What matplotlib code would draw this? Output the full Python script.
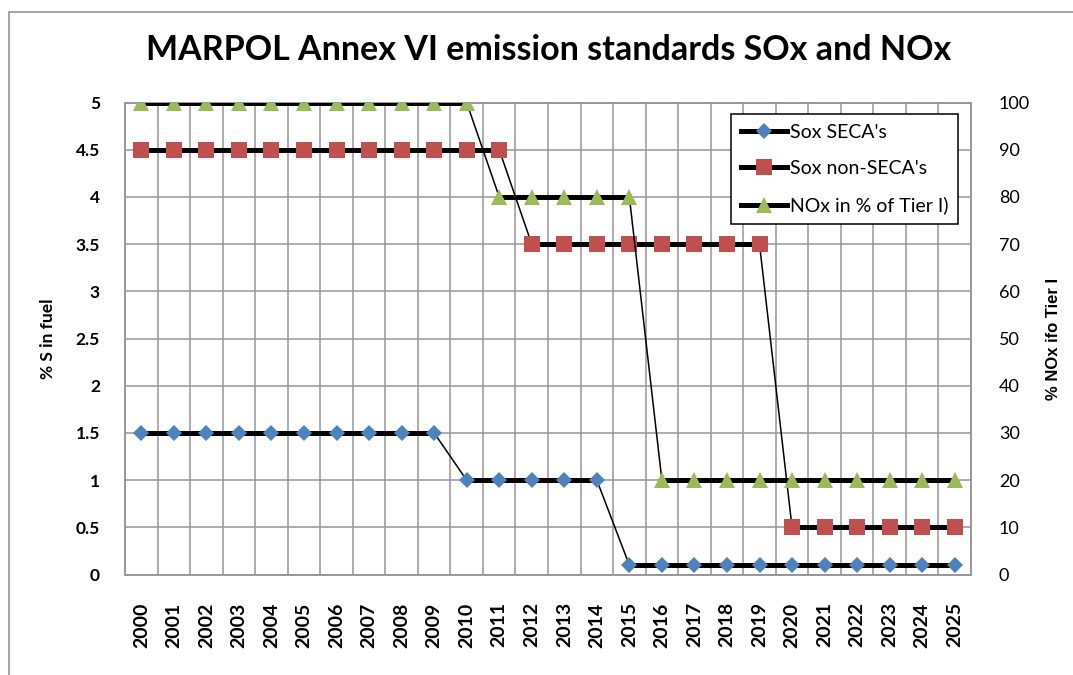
import matplotlib
matplotlib.use("Agg")
import matplotlib.pyplot as plt
import numpy as np
from matplotlib.collections import LineCollection
from matplotlib.patches import Rectangle

years = [str(y) for y in range(2000, 2026)]
sox_seca = [1.5] * 10 + [1.0] * 5 + [0.1] * 11
sox_non_seca = [4.5] * 12 + [3.5] * 8 + [0.5] * 6
nox_tier = [100] * 11 + [80] * 5 + [20] * 10

left_ticks = [0, 0.5, 1, 1.5, 2, 2.5, 3, 3.5, 4, 4.5, 5]
right_ticks = [0, 10, 20, 30, 40, 50, 60, 70, 80, 90, 100]

BLUE = "#4F81BD"
RED = "#C0504D"
GREEN = "#9BBB59"
GRID = "#969696"
FONT = "Lato"


def draw_series(ax, values, marker, color, ms, label):
    """Thick segments while a value holds, thin ones where it changes."""
    x = np.arange(len(values))
    y = np.asarray(values, dtype=float)
    segs = [[(x[i], y[i]), (x[i + 1], y[i + 1])] for i in range(len(x) - 1)]
    widths = [3.6 if y[i] == y[i + 1] else 1.1 for i in range(len(x) - 1)]
    ax.add_collection(LineCollection(segs, colors="black", linewidths=widths, zorder=3))
    ax.plot(x, y, linestyle="none", marker=marker, color=color, ms=ms,
            markeredgewidth=0, zorder=4)
    return plt.Line2D([], [], color="black", lw=3.6, marker=marker, markerfacecolor=color,
                      markeredgewidth=0, ms=ms, label=label)


fig = plt.figure(figsize=(10.73, 6.75), dpi=100)
ax = fig.add_axes([125 / 1073, 1 - 574.5 / 675, 846 / 1073, 472 / 675])
ax2 = ax.twinx()

# outer chart border
fig.patches.append(Rectangle((9 / 1073, -0.1), 1.2, 1.1 - 12 / 675,
                             transform=fig.transFigure, fill=False,
                             edgecolor="#8c8c8c", lw=1.1, zorder=0))

h1 = draw_series(ax, sox_seca, "D", BLUE, 8.2, "Sox SECA's")
h2 = draw_series(ax, sox_non_seca, "s", RED, 11, "Sox non-SECA's")
h3 = draw_series(ax2, nox_tier, "^", GREEN, 11.5, "NOx in % of Tier I)")

n = len(years)
for a in (ax, ax2):
    a.set_xlim(-0.5, n - 0.5)
ax.set_ylim(0, 5)
ax2.set_ylim(0, 100)

ax.set_xticks(np.arange(n))
ax.set_xticklabels(years, rotation=90, fontsize=14, fontweight="bold", family=FONT)
ax.set_xticks(np.arange(n + 1) - 0.5, minor=True)
ax.set_yticks(left_ticks)
ax.set_yticklabels([f"{t:g}" for t in left_ticks], fontsize=12.5, fontweight="bold",
                   family=FONT)
ax2.set_yticks(right_ticks)
ax2.set_yticklabels([str(t) for t in right_ticks], fontsize=13, family=FONT)

ax.tick_params(axis="both", which="both", length=0)
ax.tick_params(axis="x", pad=20)
ax.tick_params(axis="y", pad=18)
ax2.tick_params(axis="y", length=0, pad=20)

ax.grid(True, which="minor", axis="x", color=GRID, lw=1.1)
ax.grid(True, which="major", axis="y", color=GRID, lw=1.1)
ax.grid(False, which="major", axis="x")
ax.set_axisbelow(True)
for a in (ax, ax2):
    for sp in a.spines.values():
        sp.set_color(GRID)
        sp.set_linewidth(1.1)

ax.set_ylabel("% S in fuel", fontsize=12.5, fontweight="bold", family=FONT)
ax.yaxis.set_label_coords(-0.081, 0.5)
ax2.set_ylabel("% NOx ifo Tier I", fontsize=12, fontweight="bold", family="Liberation Sans")
ax2.yaxis.set_label_coords(1.089, 0.5)

fig.text(0.511, 1 - 50 / 675, "MARPOL Annex VI emission standards SOx and NOx",
         ha="center", va="center", fontsize=24.5, fontweight="bold", family=FONT)

leg = ax2.legend(handles=[h1, h2, h3], loc="upper right",
                 bbox_to_anchor=(0.985, 0.976), borderaxespad=0,
                 prop={"family": FONT, "size": 14}, frameon=True, fancybox=False,
                 edgecolor="black", framealpha=1, handlelength=2.4,
                 labelspacing=1.0, borderpad=0.5, handletextpad=0.15)
leg.get_frame().set_linewidth(1.1)

fig.savefig("out.png", dpi=100)
